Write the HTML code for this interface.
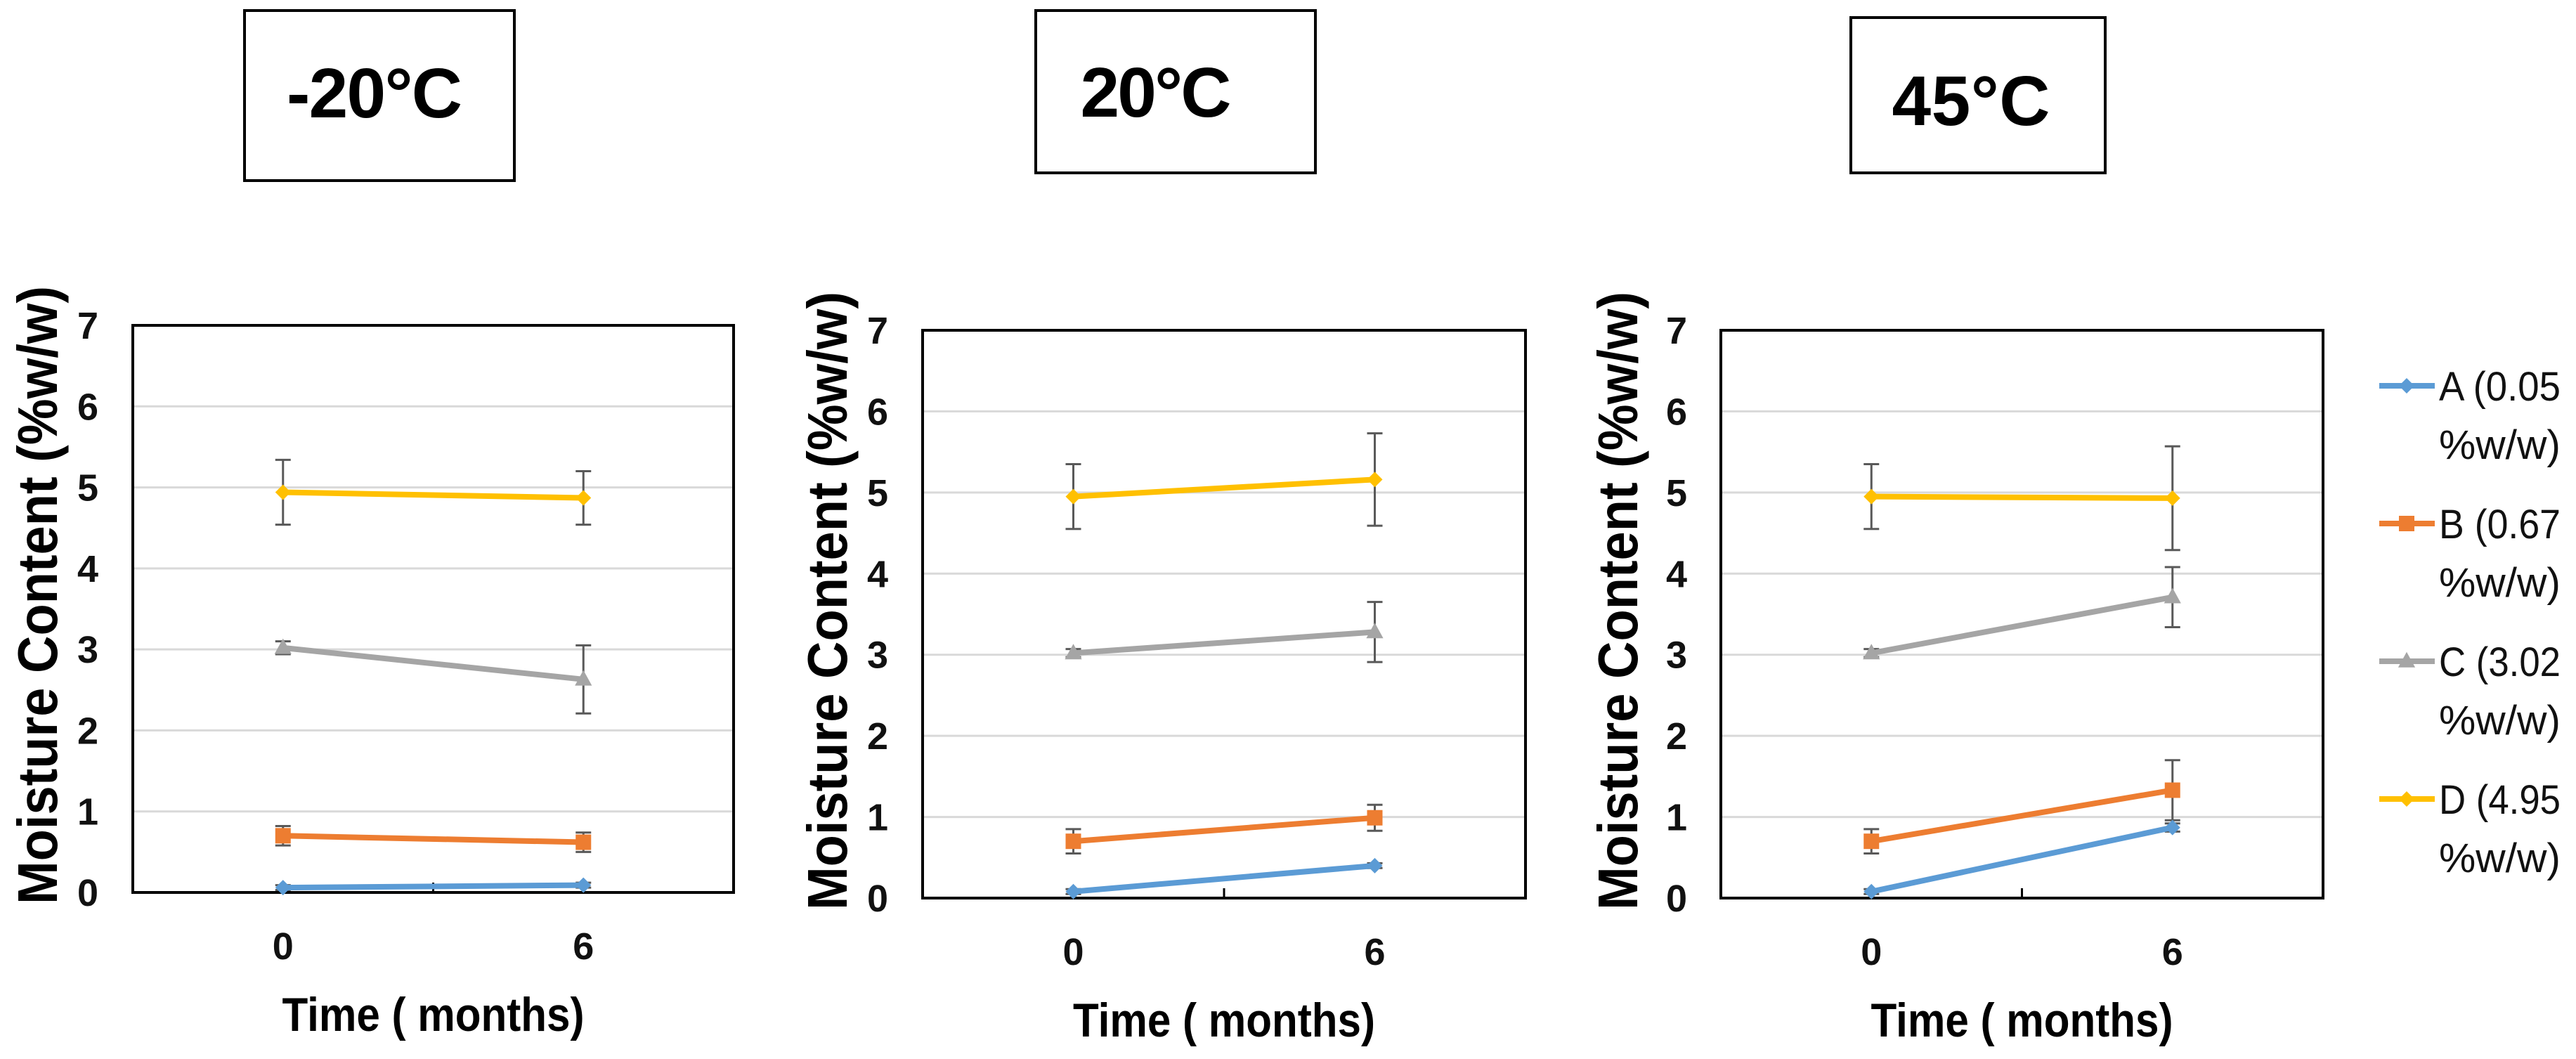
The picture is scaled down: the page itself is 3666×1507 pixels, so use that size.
<!DOCTYPE html>
<html><head><meta charset="utf-8"><style>
html,body{margin:0;padding:0;background:#fff;}
svg{display:block;}
text{font-family:"Liberation Sans",sans-serif;}
</style></head><body>
<svg id="chart" width="3666" height="1507" viewBox="0 0 3666 1507" xmlns="http://www.w3.org/2000/svg">
<rect width="3666" height="1507" fill="#fff"/>
<g>
<rect x="348" y="15" width="384" height="242" fill="#fff" stroke="#000" stroke-width="4"/>
<text x="533" y="167" font-size="100" font-weight="bold" text-anchor="middle" textLength="250">-20°C</text>
</g>
<g>
<rect x="1474" y="15" width="398" height="231" fill="#fff" stroke="#000" stroke-width="4"/>
<text x="1645" y="166" font-size="100" font-weight="bold" text-anchor="middle" textLength="215">20°C</text>
</g>
<g>
<rect x="2634" y="25" width="362" height="221" fill="#fff" stroke="#000" stroke-width="4"/>
<text x="2805" y="178" font-size="100" font-weight="bold" text-anchor="middle" textLength="225">45°C</text>
</g>
<g id="panels"></g>
<g id="legend"></g>
</svg>
<script>
const categories = ["0", "6"];
const yTicks = [0, 1, 2, 3, 4, 5, 6, 7];
const seriesNames = ["A (0.05", "B (0.67", "C (3.02", "D (4.95"];
const seriesColors = ["#5B9BD5", "#ED7D31", "#A5A5A5", "#FFC000"];
const markers = ["diamond", "square", "triangle", "diamond"];
// values per panel: [A, B, C, D] each [t0, t6]
const p1A = [0.06, 0.09], p1B = [0.70, 0.62], p1C = [3.02, 2.63], p1D = [4.94, 4.87];
const p1Aerr = [0.03, 0.03], p1Berr = [0.12, 0.12], p1Cerr = [0.08, 0.42], p1Derr = [0.40, 0.33];
const p2A = [0.08, 0.40], p2B = [0.70, 0.99], p2C = [3.02, 3.28], p2D = [4.95, 5.16];
const p2Aerr = [0.03, 0.03], p2Berr = [0.15, 0.16], p2Cerr = [0.05, 0.37], p2Derr = [0.40, 0.57];
const p3A = [0.08, 0.87], p3B = [0.70, 1.33], p3C = [3.02, 3.71], p3D = [4.95, 4.93];
const p3Aerr = [0.03, 0.05], p3Berr = [0.15, 0.37], p3Cerr = [0.05, 0.37], p3Derr = [0.40, 0.64];

const NS = "http://www.w3.org/2000/svg";
function mk(tag, attrs, parent) {
  const e = document.createElementNS(NS, tag);
  for (const k in attrs) e.setAttribute(k, attrs[k]);
  parent.appendChild(e);
  return e;
}
const panelsG = document.getElementById("panels");
const panels = [
  {name:"minus20", x0:189, x1:1044, y0:463, y1:1270, tickX:125, titleX:53, series:[p1A,p1B,p1C,p1D], errs:[p1Aerr,p1Berr,p1Cerr,p1Derr]},
  {name:"20", x0:1313, x1:2171, y0:470, y1:1278, tickX:1249, titleX:1177, series:[p2A,p2B,p2C,p2D], errs:[p2Aerr,p2Berr,p2Cerr,p2Derr]},
  {name:"45", x0:2449, x1:3306, y0:470, y1:1278, tickX:2386, titleX:2302, series:[p3A,p3B,p3C,p3D], errs:[p3Aerr,p3Berr,p3Cerr,p3Derr]}
];
function drawMarker(g, type, cx, cy, color, s) {
  let m;
  if (type === "square") m = mk("rect", {x:cx-s, y:cy-s, width:2*s, height:2*s, fill:color}, g);
  else if (type === "triangle") m = mk("polygon", {points:`${cx},${cy-s*1.2} ${cx+s*1.1},${cy+s*0.8} ${cx-s*1.1},${cy+s*0.8}`, fill:color}, g);
  else m = mk("polygon", {points:`${cx},${cy-s} ${cx+s},${cy} ${cx},${cy+s} ${cx-s},${cy}`, fill:color}, g);
  return m;
}
panels.forEach(p => {
  const g = mk("g", {}, panelsG);
  
  
  const yMax = yTicks[yTicks.length - 1];
  const ys = v => p.y1 - (v / yMax) * (p.y1 - p.y0);
  const xs = i => p.x0 + (p.x1 - p.x0) * (i + 0.5) / categories.length;
  yTicks.forEach(t => {
    if (t > 0 && t < yMax) {
      const gl = mk("line", {x1:p.x0, x2:p.x1, y1:ys(t), y2:ys(t), stroke:"#d9d9d9", "stroke-width":3}, g);
      
      
    }
    const tl = mk("text", {x:p.tickX, y:ys(t) + 19, "font-size":54, "font-weight":"bold", "text-anchor":"middle", fill:"#111"}, g);
    tl.textContent = t;
    
    
  });
  const frame = mk("rect", {x:p.x0, y:p.y0, width:p.x1-p.x0, height:p.y1-p.y0, fill:"none", stroke:"#000", "stroke-width":4}, g);
  
  
  const mid = (p.x0 + p.x1) / 2;
  mk("line", {x1:mid, x2:mid, y1:p.y1, y2:p.y1-14, stroke:"#000", "stroke-width":3}, g);
  categories.forEach((c, i) => {
    const xl = mk("text", {x:xs(i), y:p.y1 + 95, "font-size":54, "font-weight":"bold", "text-anchor":"middle", fill:"#111"}, g);
    xl.textContent = c;
    
    
  });
  const xt = mk("text", {x:mid, y:p.y1 + 197, "font-size":68, "font-weight":"bold", "text-anchor":"middle", textLength:430, lengthAdjust:"spacingAndGlyphs"}, g);
  xt.textContent = "Time ( months)";
  
  
  const yt = mk("text", {x:0, y:0, "font-size":80, "font-weight":"bold", "text-anchor":"start", textLength:880, lengthAdjust:"spacingAndGlyphs", transform:`translate(${p.titleX + 28},${p.y1 + 17}) rotate(-90)`}, g);
  yt.textContent = "Moisture Content (%w/w)";
  
  
  // error bars
  p.series.forEach((vals, si) => {
    vals.forEach((v, i) => {
      const e = p.errs[si][i];
      const x = xs(i);
      const eb = mk("g", {stroke:"#595959", "stroke-width":3}, g);
      
      
      mk("line", {x1:x, x2:x, y1:ys(v+e), y2:ys(v-e)}, eb);
      mk("line", {x1:x-11, x2:x+11, y1:ys(v+e), y2:ys(v+e)}, eb);
      mk("line", {x1:x-11, x2:x+11, y1:ys(v-e), y2:ys(v-e)}, eb);
    });
  });
  p.series.forEach((vals, si) => {
    const sg = mk("g", {}, g);
    
    
    const pts = vals.map((v, i) => `${xs(i)},${ys(v)}`).join(" ");
    mk("polyline", {points:pts, fill:"none", stroke:seriesColors[si], "stroke-width":8}, sg);
    vals.forEach((v, i) => {
      const m = drawMarker(sg, markers[si], xs(i), ys(v), seriesColors[si], 11);
      
      
    });
  });
});
// legend
const lg = document.getElementById("legend");
seriesNames.forEach((n, i) => {
  const cy = 549 + i * 196;
  const eg = mk("g", {}, lg);
  
  
  mk("line", {x1:3386, x2:3465, y1:cy, y2:cy, stroke:seriesColors[i], "stroke-width":8}, eg);
  drawMarker(eg, markers[i], 3425, cy, seriesColors[i], 11);
  const t1 = mk("text", {x:3471, y:cy + 21, "font-size":58, fill:"#111", textLength:173, lengthAdjust:"spacingAndGlyphs"}, eg);
  t1.textContent = n;
  const t2 = mk("text", {x:3471, y:cy + 104, "font-size":58, fill:"#111", textLength:173, lengthAdjust:"spacingAndGlyphs"}, eg);
  t2.textContent = "%w/w)";
});
</script>
</body></html>
